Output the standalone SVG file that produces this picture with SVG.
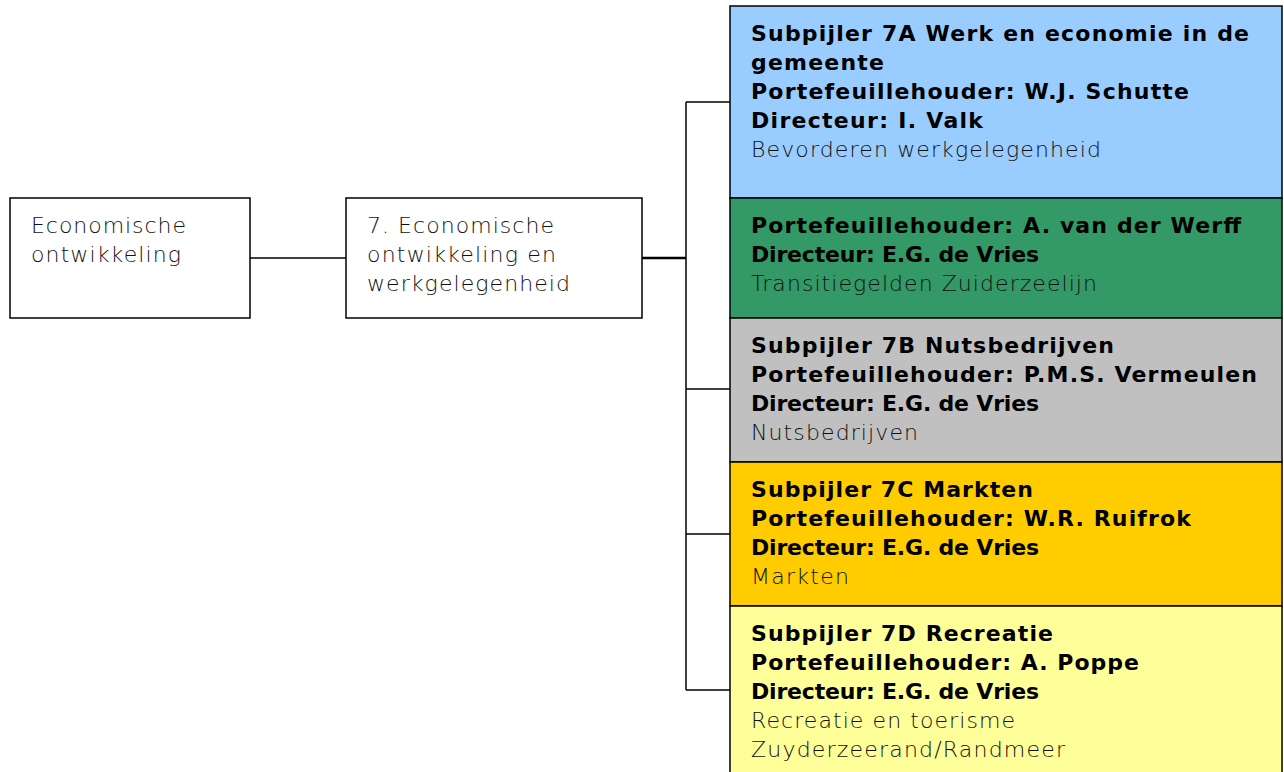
<svg xmlns="http://www.w3.org/2000/svg" width="1284" height="772" viewBox="0 0 1284 772">
<style>
.box{stroke:#000;stroke-width:1.5}
.b{font-family:"DejaVu Sans",Verdana,sans-serif;font-weight:bold;font-size:22px;fill:#000}
.r{font-family:"DejaVu Sans",Verdana,sans-serif;font-weight:300;font-size:22px;fill:#111}
.c{fill:none;stroke:#000;stroke-width:1.5}
</style>
<rect width="1284" height="772" fill="#fff"/>
<g id="connectors">
<path class="c" d="M250 258H346"/>
<path class="c" d="M642 258H686" style="stroke-width:2.5"/>
<path class="c" d="M686 102V690"/>
<path class="c" d="M686 102H730M686 389H730M686 534H730M686 690H730"/>
</g>
<g id="n1">
<rect class="box" x="10" y="198" width="240" height="120" fill="#fff"/>
<text class="r" x="31" y="233" textLength="155">Economische</text>
<text class="r" x="31" y="262" textLength="150">ontwikkeling</text>
</g>
<g id="n2">
<rect class="box" x="346" y="198" width="296" height="120" fill="#fff"/>
<text class="r" x="367" y="233" textLength="187">7. Economische</text>
<text class="r" x="367" y="262" textLength="189">ontwikkeling en</text>
<text class="r" x="367" y="291" textLength="203">werkgelegenheid</text>
</g>
<g id="n7a">
<rect class="box" x="730" y="6" width="552" height="192" fill="#99CCFF"/>
<text class="b" x="751" y="41" textLength="498">Subpijler 7A Werk en economie in de</text>
<text class="b" x="751" y="70" textLength="133">gemeente</text>
<text class="b" x="751" y="99" textLength="438">Portefeuillehouder: W.J. Schutte</text>
<text class="b" x="751" y="128" textLength="232">Directeur: I. Valk</text>
<text class="r" x="751" y="157" textLength="350">Bevorderen werkgelegenheid</text>
</g>
<g id="ngreen">
<rect class="box" x="730" y="198" width="552" height="120" fill="#339966"/>
<text class="b" x="751" y="233" textLength="490">Portefeuillehouder: A. van der Werff</text>
<text class="b" x="751" y="262" textLength="288">Directeur: E.G. de Vries</text>
<text class="r" x="751" y="291" textLength="346">Transitiegelden Zuiderzeelijn</text>
</g>
<g id="n7b">
<rect class="box" x="730" y="318" width="552" height="144" fill="#C0C0C0"/>
<text class="b" x="751" y="353" textLength="363">Subpijler 7B Nutsbedrijven</text>
<text class="b" x="751" y="382" textLength="506">Portefeuillehouder: P.M.S. Vermeulen</text>
<text class="b" x="751" y="411" textLength="288">Directeur: E.G. de Vries</text>
<text class="r" x="751" y="440" textLength="167">Nutsbedrijven</text>
</g>
<g id="n7c">
<rect class="box" x="730" y="462" width="552" height="144" fill="#FFCC00"/>
<text class="b" x="751" y="497" textLength="282">Subpijler 7C Markten</text>
<text class="b" x="751" y="526" textLength="440">Portefeuillehouder: W.R. Ruifrok</text>
<text class="b" x="751" y="555" textLength="288">Directeur: E.G. de Vries</text>
<text class="r" x="751" y="584" textLength="98">Markten</text>
</g>
<g id="n7d">
<rect class="box" x="730" y="606" width="552" height="172" fill="#FFFF99"/>
<text class="b" x="751" y="641" textLength="302">Subpijler 7D Recreatie</text>
<text class="b" x="751" y="670" textLength="388">Portefeuillehouder: A. Poppe</text>
<text class="b" x="751" y="699" textLength="288">Directeur: E.G. de Vries</text>
<text class="r" x="751" y="728" textLength="264">Recreatie en toerisme</text>
<text class="r" x="751" y="757" textLength="314">Zuyderzeerand/Randmeer</text>
</g>
</svg>
